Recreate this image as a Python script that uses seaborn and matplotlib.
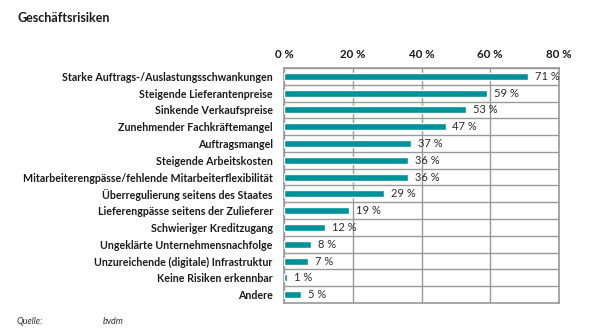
import matplotlib
matplotlib.use("Agg")
import matplotlib.pyplot as plt
import seaborn as sns
import pandas as pd
import numpy as np

categories = [
    "Starke Auftrags-/Auslastungsschwankungen",
    "Steigende Lieferantenpreise",
    "Sinkende Verkaufspreise",
    "Zunehmender Fachkräftemangel",
    "Auftragsmangel",
    "Steigende Arbeitskosten",
    "Mitarbeiterengpässe/fehlende Mitarbeiterflexibilität",
    "Überregulierung seitens des Staates",
    "Lieferengpässe seitens der Zulieferer",
    "Schwieriger Kreditzugang",
    "Ungeklärte Unternehmensnachfolge",
    "Unzureichende (digitale) Infrastruktur",
    "Keine Risiken erkennbar",
    "Andere",
]
values = [71, 59, 53, 47, 37, 36, 36, 29, 19, 12, 8, 7, 1, 5]
xticks = [0, 20, 40, 60, 80]
xtick_labels = ["0 %", "20 %", "40 %", "60 %", "80 %"]

sns.set_theme(style="white")
plt.rcParams["font.family"] = ["Lato", "DejaVu Sans"]

df = pd.DataFrame({"cat": categories, "val": values})

fig = plt.figure(figsize=(5.91, 3.33), dpi=100)
ax = fig.add_axes([0.4805, 0.0901, 0.4654, 0.7057])

sns.barplot(data=df, x="val", y="cat", color="#00929A", saturation=1,
            width=0.42, ax=ax, zorder=3)

ax.set_xlim(0, 80)
ax.set_ylim(len(categories) - 0.5, -0.5)
ax.set_xticks(xticks)
ax.set_xticklabels(xtick_labels, fontsize=8.3, fontweight="bold", color="#1a1a1a")
ax.xaxis.tick_top()
ax.tick_params(axis="x", length=0, pad=6)
ax.tick_params(axis="y", length=0, pad=8, labelsize=7.7)
for t in ax.get_yticklabels():
    t.set_fontweight("bold")
    t.set_color("#1a1a1a")
ax.set_xlabel("")
ax.set_ylabel("")

ax.set_yticks(np.arange(-0.5, len(categories), 1), minor=True)
ax.grid(True, which="minor", axis="y", color="#9a9a9a", linewidth=1, zorder=0)
ax.grid(True, which="major", axis="x", color="#9a9a9a", linewidth=1, zorder=0)
ax.tick_params(axis="y", which="minor", length=0)
for s in ax.spines.values():
    s.set_visible(True)
    s.set_color("#9a9a9a")
    s.set_linewidth(1.2)

for i, v in enumerate(values):
    ax.text(v + 2.0, i, f"{v} %", va="center", ha="left", fontsize=8,
            color="#2a2a2a", zorder=4)

fig.text(17 / 591, 1 - 18 / 333, "Geschäftsrisiken", fontsize=9,
         fontweight="bold", va="center", ha="left", color="#1a1a1a")
fig.text(17 / 591, 1 - 322 / 333, "Quelle:", fontsize=6.5, style="italic",
         va="center", ha="left", color="#333333")
fig.text(103 / 591, 1 - 322 / 333, "bvdm", fontsize=6.5, style="italic",
         va="center", ha="left", color="#333333")

fig.savefig("out.png", dpi=100, facecolor="white")
